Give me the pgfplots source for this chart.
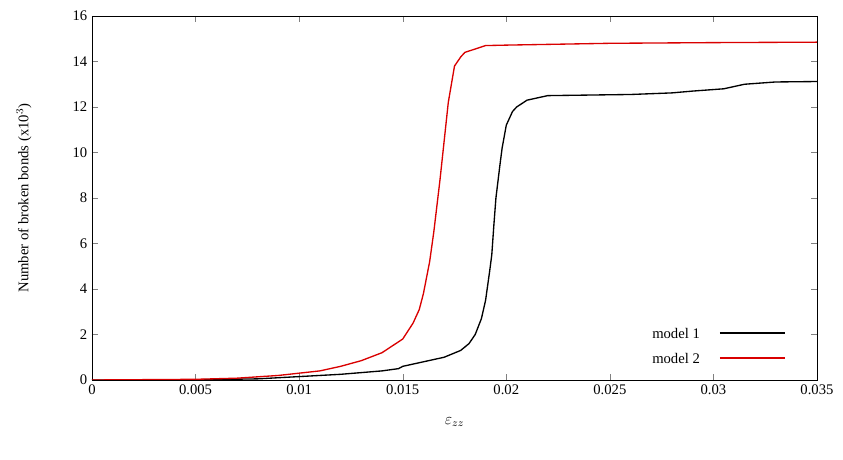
\documentclass[border=0pt]{standalone}
\usepackage{pgfplots}
\pgfplotsset{compat=1.18}
\usepackage{fontspec}
\setmainfont{Liberation Serif}
\begin{document}
\begin{tikzpicture}
\path[use as bounding box] (-69pt,-60pt) rectangle (563.25pt,285pt);
\begin{axis}[
  at={(0,0)}, anchor=south west,
  width=543.75pt, height=273pt, scale only axis,
  xmin=0, xmax=0.035, ymin=0, ymax=16,
  xtick={0,0.005,...,0.035},
  xticklabels={0,0.005,0.01,0.015,0.02,0.025,0.03,0.035},
  ytick={0,2,...,16},
  tick align=inside, tick pos=both,
  /pgf/number format/assume math mode=true,
  ticklabel style={font=\fontsize{11}{12}\selectfont},
  scaled x ticks=false,
  xlabel={$\varepsilon_{zz}$}, xlabel style={font=\large, yshift=-10pt},
  ylabel={Number of broken bonds (x10$^3$)}, ylabel style={font=\fontsize{11}{12}\selectfont, yshift=24pt},
]
\addplot[black, line width=1pt] coordinates {
(0,0) (0.005,0.01) (0.008,0.05) (0.01,0.15) (0.012,0.25) (0.014,0.4) (0.0148,0.5) (0.015,0.6) (0.016,0.8) (0.017,1.0) (0.0178,1.3) (0.0182,1.6) (0.0185,2.0) (0.0188,2.7) (0.019,3.5) (0.0192,4.8) (0.0193,5.5) (0.0194,6.8) (0.0195,8) (0.0197,9.5) (0.0198,10.2) (0.02,11.2) (0.0203,11.8) (0.0205,12.0) (0.021,12.3) (0.022,12.5) (0.026,12.55) (0.028,12.62) (0.029,12.7) (0.0305,12.8) (0.031,12.9) (0.0315,13.0) (0.033,13.1) (0.035,13.12)};
\addplot[red!85!black, line width=1pt] coordinates {
(0,0) (0.005,0.03) (0.007,0.08) (0.009,0.2) (0.01,0.3) (0.011,0.4) (0.012,0.6) (0.013,0.85) (0.014,1.2) (0.015,1.8) (0.0155,2.5) (0.0158,3.1) (0.016,3.8) (0.0163,5.2) (0.0165,6.5) (0.0168,8.8) (0.017,10.5) (0.0172,12.2) (0.0175,13.8) (0.0178,14.2) (0.018,14.4) (0.019,14.7) (0.02,14.72) (0.025,14.8) (0.03,14.83) (0.035,14.85)};
\draw[black, line width=1pt] (rel axis cs:0.866,0.129) -- (rel axis cs:0.956,0.129);
\node[anchor=east, font=\fontsize{11}{12}\selectfont] at (rel axis cs:0.845,0.129) {model 1};
\draw[red!85!black, line width=1pt] (rel axis cs:0.866,0.060) -- (rel axis cs:0.956,0.060);
\node[anchor=east, font=\fontsize{11}{12}\selectfont] at (rel axis cs:0.845,0.060) {model 2};
\end{axis}
\end{tikzpicture}
\end{document}
